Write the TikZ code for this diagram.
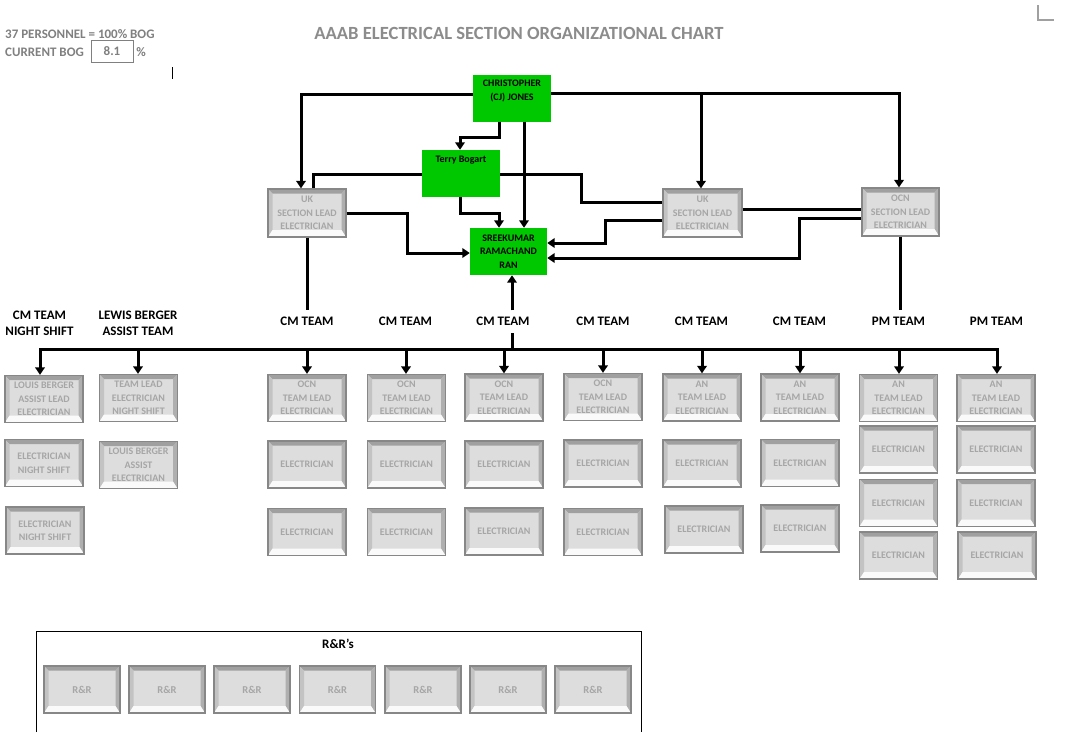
\documentclass[tikz,border=0pt]{standalone}
\usepackage{fontspec}
\setmainfont{Carlito}
\usetikzlibrary{arrows.meta,calc}
\definecolor{grn}{RGB}{0,200,0}
\definecolor{bordg}{RGB}{135,135,135}
\definecolor{faceg}{RGB}{221,221,221}
\definecolor{bevT}{RGB}{160,160,160}
\definecolor{bevL}{RGB}{195,195,195}
\definecolor{bevR}{RGB}{175,175,175}
\definecolor{bevB}{RGB}{250,250,250}
\definecolor{txtg}{RGB}{166,166,166}
\definecolor{hdrg}{RGB}{128,128,128}
\definecolor{ttlg}{RGB}{140,140,140}
\definecolor{markg}{RGB}{160,160,160}
\newcommand{\boxtxt}{\fontsize{10}{13.5}\selectfont\bfseries}
\newcommand{\lbltxt}{\fontsize{13}{16}\selectfont\bfseries}
\tikzset{
  conn/.style={line width=3pt, draw=black},
  arr/.style={conn, -{Triangle[width=9.5pt,length=7.5pt]}},
  arrboth/.style={conn, {Triangle[width=9.5pt,length=7.5pt]}-{Triangle[width=9.5pt,length=7.5pt]}},
  gbox/.style={fill=grn, minimum width=78pt, minimum height=47pt, inner sep=0pt, font=\boxtxt, align=center, text=black},
  gtext/.style={inner sep=0pt, font=\boxtxt, align=center, text=black},
  bev/.style={draw=bordg, line width=1.3pt, fill=faceg,
    minimum width=78pt, minimum height=47pt, inner sep=1pt,
    font=\boxtxt, text=txtg, align=center,
    path picture={
      \coordinate (bvsw) at (path picture bounding box.south west);
      \coordinate (bvne) at (path picture bounding box.north east);
      \coordinate (bvnw) at (path picture bounding box.north west);
      \coordinate (bvse) at (path picture bounding box.south east);
      \fill[bevT] (bvnw) -- (bvne) -- ($(bvne)+(-4.5pt,-4.5pt)$) -- ($(bvnw)+(4.5pt,-4.5pt)$) -- cycle;
      \fill[bevL] (bvnw) -- ($(bvnw)+(4.5pt,-4.5pt)$) -- ($(bvsw)+(4.5pt,7pt)$) -- (bvsw) -- cycle;
      \fill[bevR] (bvne) -- (bvse) -- ($(bvse)+(-4.5pt,7pt)$) -- ($(bvne)+(-4.5pt,-4.5pt)$) -- cycle;
      \fill[bevB] (bvsw) -- (bvse) -- ($(bvse)+(-4.5pt,7pt)$) -- ($(bvsw)+(4.5pt,7pt)$) -- cycle;
    }},
  rr/.style={bev, minimum width=76pt, font=\fontsize{10.5}{13}\selectfont\bfseries},
  lbl/.style={font=\lbltxt, minimum height=22pt, inner sep=0pt, text=black},
  lbl2/.style={font=\lbltxt, inner sep=0pt, align=center, text=black},
  hdr/.style={font=\fontsize{13}{16}\selectfont\bfseries, text=hdrg, inner sep=0pt}
}
\begin{document}
\begin{tikzpicture}[x=1pt,y=-1pt]
\fill[white] (0,0) rectangle (1067,732);
\useasboundingbox (0,0) rectangle (1067,732);

% header texts
\node[hdr, anchor=west] (pers) at (5,35) {37 PERSONNEL = \underline{100\%} BOG};
\node[hdr, anchor=west] (cur) at (5,52.5) {CURRENT BOG};
\node[hdr, draw=hdrg, line width=1pt, minimum width=42pt, minimum height=22pt] (bogbox) at (112,51.5) {8.1};
\node[hdr] (pct) at (141,52) {\%};
\draw[line width=1pt] (172,67) -- (172,79);
\draw[markg, line width=1.3pt] (1038,5) -- (1038,20) -- (1054,20);
\node[font=\fontsize{18.6}{22}\selectfont\bfseries, text=ttlg, inner sep=0pt] (title) at (519,33) {AAAB ELECTRICAL SECTION ORGANIZATIONAL CHART};

% green boxes
\node[gbox] (cj) at (512,98) {};
\node[gtext] (cjt) at (512,91) {CHRISTOPHER\\(CJ) JONES};
\node[gbox] (terry) at (461,173.5) {};
\node[gtext] (terryt) at (461,160.5) {Terry Bogart};
\node[gbox, minimum width=77pt] (sree) at (508.5,251.5) {SREEKUMAR\\RAMACHAND\\RAN};

% section leads
\node[bev, minimum height=48pt] (ukl) at (307,213) {UK\\SECTION LEAD\\ELECTRICIAN};
\node[bev, minimum height=48pt, minimum width=79pt] (ukm) at (702.5,213) {UK\\SECTION LEAD\\ELECTRICIAN};
\node[bev, minimum height=48pt, minimum width=77pt] (ocn) at (900.5,212) {OCN\\SECTION LEAD\\ELECTRICIAN};

% connectors top
\draw[arr] ([yshift=4pt]cj.west) -| ([xshift=-6pt]ukl.north);
\draw[arr] ([yshift=5pt]cj.east) -| ([xshift=-1.5pt]ocn.north);
\coordinate (jR) at (701,93);
\draw[arr] (jR) -- (jR |- ukm.north);
\draw[arr] ([xshift=-13pt]cj.south) -- ++(0,16) -| ([xshift=-1pt]terry.north);
\draw[arr] ([xshift=12pt]cj.south) -- ([xshift=15.5pt]sree.north);
\draw[arr] ([xshift=-1pt]terry.south) -- ++(0,16) -| ([xshift=-9.5pt]sree.north);
\draw[conn] ([yshift=-0.5pt]terry.west) -| ([xshift=6pt]ukl.north);
\draw[conn] ([yshift=-0.5pt]terry.east) -- ++(81,0) |- ([yshift=11pt]ukm.west);
\draw[arr] (ukl.east) -- ++(61,0) |- ([yshift=-1.5pt]sree.west);
\draw[arr] ([yshift=-7pt]ukm.west) -- ++(-57,0) |- ([yshift=8.5pt]sree.east);
\draw[arr] ([yshift=-6pt]ocn.west) -- ++(-62,0) |- ([yshift=-6.5pt]sree.east);
\draw[conn] ([yshift=4pt]ukm.east) -- ([yshift=3pt]ocn.west);

% team labels
\node[lbl2] (l1) at (39.5,323) {CM TEAM\\NIGHT SHIFT};
\node[lbl2] (l2) at (138,323) {LEWIS BERGER\\ASSIST TEAM};
\node[lbl] (l3) at (307,321.5) {CM TEAM};
\node[lbl] (l4) at (405.5,321.5) {CM TEAM};
\node[lbl] (l5) at (503,321.5) {CM TEAM};
\node[lbl] (l6) at (603,321.5) {CM TEAM};
\node[lbl] (l7) at (701.5,321.5) {CM TEAM};
\node[lbl] (l8) at (799.5,321.5) {CM TEAM};
\node[lbl] (l9) at (898.5,321.5) {PM TEAM};
\node[lbl] (l10) at (996.5,321.5) {PM TEAM};

% team boxes
\node[bev] (n1a) at (44,399) {LOUIS BERGER\\ASSIST LEAD\\ELECTRICIAN};
\node[bev] (n1b) at (44,463) {ELECTRICIAN\\NIGHT SHIFT};
\node[bev] (n1c) at (45,530.5) {ELECTRICIAN\\NIGHT SHIFT};
\node[bev] (n2a) at (138.5,398) {TEAM LEAD\\ELECTRICIAN\\NIGHT SHIFT};
\node[bev] (n2b) at (138.5,465) {LOUIS BERGER\\ASSIST\\ELECTRICIAN};
\node[bev] (n3a) at (307,398) {OCN\\TEAM LEAD\\ELECTRICIAN};
\node[bev] (n3b) at (307,464.5) {ELECTRICIAN};
\node[bev] (n3c) at (307,532) {ELECTRICIAN};
\node[bev] (n4a) at (406.5,398) {OCN\\TEAM LEAD\\ELECTRICIAN};
\node[bev] (n4b) at (406.5,464.5) {ELECTRICIAN};
\node[bev] (n4c) at (406.5,532) {ELECTRICIAN};
\node[bev] (n5a) at (504,397.5) {OCN\\TEAM LEAD\\ELECTRICIAN};
\node[bev] (n5b) at (504,464.5) {ELECTRICIAN};
\node[bev] (n5c) at (504,531.5) {ELECTRICIAN};
\node[bev] (n6a) at (603,397) {OCN\\TEAM LEAD\\ELECTRICIAN};
\node[bev] (n6b) at (603,463.5) {ELECTRICIAN};
\node[bev] (n6c) at (603,532) {ELECTRICIAN};
\node[bev] (n7a) at (702,397.5) {AN\\TEAM LEAD\\ELECTRICIAN};
\node[bev] (n7b) at (702,463.5) {ELECTRICIAN};
\node[bev] (n7c) at (704,529.5) {ELECTRICIAN};
\node[bev] (n8a) at (800,397.5) {AN\\TEAM LEAD\\ELECTRICIAN};
\node[bev] (n8b) at (800,463) {ELECTRICIAN};
\node[bev] (n8c) at (800,528.5) {ELECTRICIAN};
\node[bev] (n9a) at (898.5,398) {AN\\TEAM LEAD\\ELECTRICIAN};
\node[bev] (n9b) at (898.5,449.5) {ELECTRICIAN};
\node[bev] (n9c) at (898.5,503) {ELECTRICIAN};
\node[bev] (n9d) at (898.5,555.5) {ELECTRICIAN};
\node[bev] (n10a) at (996,398) {AN\\TEAM LEAD\\ELECTRICIAN};
\node[bev] (n10b) at (996,449.5) {ELECTRICIAN};
\node[bev] (n10c) at (996,503) {ELECTRICIAN};
\node[bev] (n10d) at (997,555.5) {ELECTRICIAN};

% vertical links to labels
\draw[conn] (ukl.south) -- (ukl.south |- l3.north);
\draw[conn] (ocn.south) -- (ocn.south |- l9.north);
\coordinate (up5) at (512,349.5);
\draw[conn] (up5) -- (up5 |- l5.south);
\draw[arr] (up5 |- l5.north) -- (up5 |- sree.south);

% bus
\coordinate (t1) at (40,349.5);
\coordinate (t2) at (138,349.5);
\coordinate (t3) at (307,349.5);
\coordinate (t4) at (406,349.5);
\coordinate (t5) at (504,349.5);
\coordinate (t6) at (603,349.5);
\coordinate (t7) at (702,349.5);
\coordinate (t8) at (800,349.5);
\coordinate (t9) at (899,349.5);
\coordinate (t10) at (997,349.5);
\draw[arrboth] (t1 |- n1a.north) -- (t1) -- (t10) -- (t10 |- n10a.north);
\draw[arr] (t2) -- (t2 |- n2a.north);
\draw[arr] (t3) -- (t3 |- n3a.north);
\draw[arr] (t4) -- (t4 |- n4a.north);
\draw[arr] (t5) -- (t5 |- n5a.north);
\draw[arr] (t6) -- (t6 |- n6a.north);
\draw[arr] (t7) -- (t7 |- n7a.north);
\draw[arr] (t8) -- (t8 |- n8a.north);
\draw[arr] (t9) -- (t9 |- n9a.north);

% R&R frame
\draw[line width=1pt] (36,732) -- (36,631) -- (641,631) -- (641,732);
\node[font=\fontsize{13}{16}\selectfont\bfseries, inner sep=0pt] (rrt) at (338,644) {R\&R’s};
\node[rr] (r1) at (82,689.5) {R\&R};
\node[rr] (r2) at (167,689.5) {R\&R};
\node[rr] (r3) at (252,689.5) {R\&R};
\node[rr] (r4) at (337.5,689.5) {R\&R};
\node[rr] (r5) at (423,689.5) {R\&R};
\node[rr] (r6) at (508,689.5) {R\&R};
\node[rr] (r7) at (593,689.5) {R\&R};
\end{tikzpicture}
\end{document}
